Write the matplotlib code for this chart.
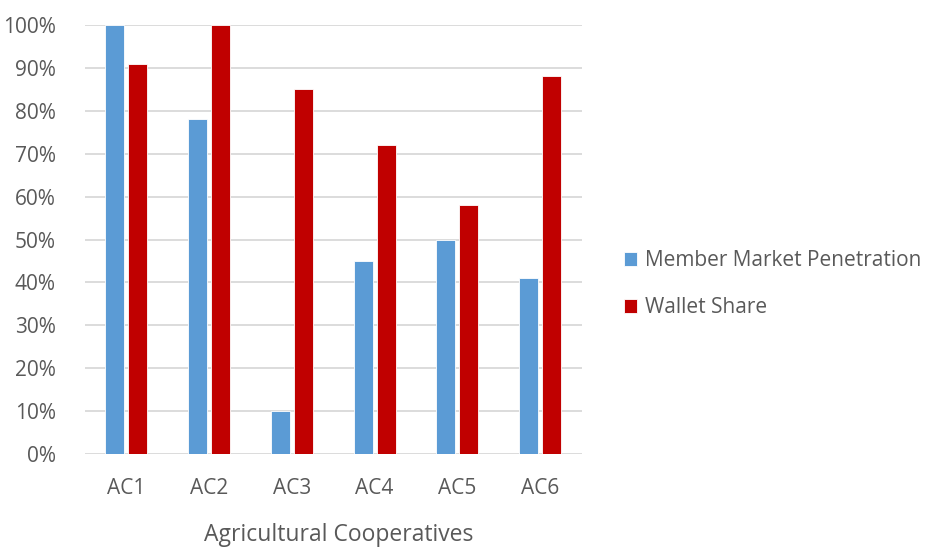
import numpy as np
import matplotlib.pyplot as plt
from matplotlib.ticker import PercentFormatter

plt.rcParams.update({
    "font.family": ["Open Sans", "DejaVu Sans"],
    "font.size": 15,
    "text.color": "#595959",
    "xtick.color": "#595959",
    "ytick.color": "#595959",
})

categories = ["AC1", "AC2", "AC3", "AC4", "AC5", "AC6"]
penetration = [100, 78, 10, 45, 50, 41]
wallet_share = [91, 100, 85, 72, 58, 88]
series_names = ["Member Market Penetration", "Wallet Share"]
colors = ["#5B9BD5", "#C00000"]

fig = plt.figure(figsize=(9.26, 5.5), dpi=100)
ax = fig.add_axes([85 / 926, 1 - 454 / 550, (581.5 - 85) / 926, (454 - 25) / 550])

x = np.arange(len(categories))
w = 0.23
b1 = ax.bar(x - 0.14, penetration, w, color=colors[0], edgecolor="white", linewidth=0.6,
            label=series_names[0], zorder=3)
b2 = ax.bar(x + 0.14, wallet_share, w, color=colors[1], edgecolor="white", linewidth=0.6,
            label=series_names[1], zorder=3)

ax.set_xlim(-0.5, len(categories) - 0.5)
ax.set_ylim(0, 100)
ax.set_yticks(np.arange(0, 101, 10))
ax.yaxis.set_major_formatter(PercentFormatter(decimals=0))
ax.set_xticks(x)
ax.set_xticklabels(categories)
ax.tick_params(axis="both", length=0, labelsize=15)
ax.tick_params(axis="y", pad=21)
ax.tick_params(axis="x", pad=17)
ax.grid(axis="y", color="#D9D9D9", linewidth=1.3, zorder=0)
for s in ax.spines.values():
    s.set_visible(False)

fig.text(339 / 926, 1 - 535 / 550, "Agricultural Cooperatives",
         ha="center", va="center", fontsize=16.5)

fig.legend(handles=[b1, b2], loc="center left", bbox_to_anchor=(605 / 926, 1 - 284 / 550),
           frameon=False, fontsize=15, handlelength=0.65, handleheight=0.65,
           handletextpad=0.35, labelspacing=1.25)

fig.savefig("out.png", dpi=100)
